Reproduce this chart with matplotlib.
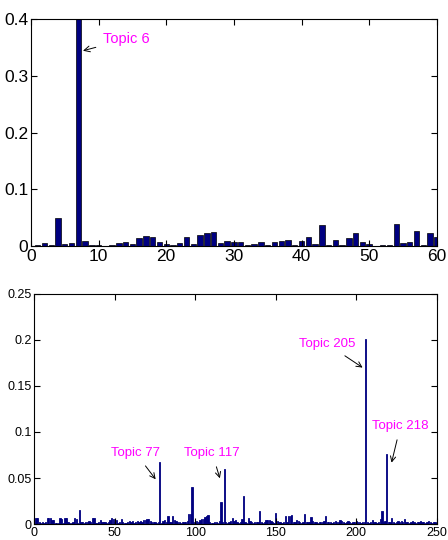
import numpy as np
import matplotlib
matplotlib.use("Agg")
import matplotlib.pyplot as plt

plt.rcParams['font.family'] = ['Liberation Sans', 'DejaVu Sans']

# top panel: first 60 topics
top_vals = [0.003, 0.005, 0.002, 0.050, 0.004, 0.005, 0.420, 0.009, 0.002, 0.002,
            0.001, 0.003, 0.005, 0.007, 0.004, 0.014, 0.018, 0.016, 0.008, 0.004,
            0.003, 0.005, 0.017, 0.004, 0.020, 0.023, 0.025, 0.005, 0.009, 0.008,
            0.008, 0.003, 0.004, 0.008, 0.002, 0.008, 0.009, 0.011, 0.002, 0.009,
            0.016, 0.004, 0.037, 0.002, 0.011, 0.003, 0.014, 0.023, 0.008, 0.004,
            0.001, 0.003, 0.003, 0.039, 0.005, 0.008, 0.027, 0.002, 0.024, 0.017]

# bottom panel: 250 topics
bot_vals = [0.007, 0.006, 0.002, 0.001, 0.002, 0.001, 0.002, 0.007, 0.007, 0.006,
            0.004, 0.004, 0.001, 0.001, 0.001, 0.006, 0.005, 0.001, 0.006, 0.006,
            0.002, 0.001, 0.001, 0.002, 0.006, 0.005, 0.001, 0.015, 0.002, 0.002,
            0.001, 0.002, 0.002, 0.003, 0.002, 0.007, 0.006, 0.001, 0.001, 0.002,
            0.004, 0.002, 0.002, 0.002, 0.001, 0.002, 0.004, 0.006, 0.005, 0.002,
            0.004, 0.001, 0.002, 0.005, 0.002, 0.001, 0.001, 0.002, 0.003, 0.002,
            0.003, 0.001, 0.002, 0.003, 0.002, 0.003, 0.002, 0.004, 0.004, 0.005,
            0.005, 0.003, 0.002, 0.002, 0.002, 0.001, 0.002, 0.067, 0.001, 0.003,
            0.004, 0.002, 0.009, 0.002, 0.002, 0.009, 0.004, 0.003, 0.002, 0.002,
            0.001, 0.002, 0.002, 0.002, 0.003, 0.011, 0.011, 0.040, 0.002, 0.001,
            0.003, 0.002, 0.004, 0.005, 0.005, 0.008, 0.009, 0.010, 0.002, 0.001,
            0.001, 0.002, 0.002, 0.001, 0.003, 0.024, 0.002, 0.060, 0.002, 0.001,
            0.002, 0.003, 0.006, 0.003, 0.004, 0.002, 0.001, 0.002, 0.005, 0.030,
            0.002, 0.001, 0.007, 0.003, 0.002, 0.001, 0.002, 0.002, 0.002, 0.014,
            0.002, 0.001, 0.002, 0.004, 0.004, 0.004, 0.003, 0.002, 0.001, 0.012,
            0.003, 0.002, 0.002, 0.001, 0.002, 0.009, 0.002, 0.009, 0.009, 0.010,
            0.002, 0.002, 0.004, 0.003, 0.002, 0.001, 0.002, 0.011, 0.002, 0.002,
            0.002, 0.008, 0.003, 0.002, 0.002, 0.001, 0.002, 0.002, 0.002, 0.003,
            0.009, 0.002, 0.002, 0.002, 0.001, 0.002, 0.003, 0.002, 0.002, 0.004,
            0.003, 0.002, 0.001, 0.002, 0.003, 0.002, 0.001, 0.002, 0.002, 0.003,
            0.002, 0.002, 0.001, 0.002, 0.002, 0.201, 0.002, 0.001, 0.002, 0.004,
            0.002, 0.002, 0.001, 0.002, 0.005, 0.014, 0.002, 0.003, 0.076, 0.002,
            0.002, 0.007, 0.002, 0.001, 0.002, 0.003, 0.002, 0.003, 0.002, 0.005,
            0.002, 0.002, 0.001, 0.002, 0.003, 0.002, 0.001, 0.002, 0.002, 0.003,
            0.002, 0.002, 0.001, 0.002, 0.003, 0.002, 0.001, 0.002, 0.002, 0.001]

top_ticks_x = [0, 10, 20, 30, 40, 50, 60]
top_ticks_y = [0, 0.1, 0.2, 0.3, 0.4]
top_ticklabels_y = ['0', '0.1', '0.2', '0.3', '0.4']
bot_ticks_x = [0, 50, 100, 150, 200, 250]
bot_ticks_y = [0, 0.05, 0.1, 0.15, 0.2, 0.25]
bot_ticklabels_y = ['0', '0.05', '0.1', '0.15', '0.2', '0.25']

navy = '#000080'
magenta = '#ff00ff'

fig = plt.figure(figsize=(4.48, 5.4), dpi=100)

def style_axes(ax, size):
    ax.tick_params(direction='in', top=True, right=True, length=4, width=0.8,
                   labelsize=size, pad=2)
    for s in ax.spines.values():
        s.set_linewidth(0.8)
        s.set_color('black')

# top
ax1 = fig.add_axes([0.069, 0.544, 0.906, 0.421])
x1 = np.arange(1, len(top_vals) + 1)
ax1.bar(x1, top_vals, width=0.8, color=navy, edgecolor='black', linewidth=0.5)
ax1.set_xlim(0, 60)
ax1.set_ylim(0, 0.4)
ax1.set_xticks(top_ticks_x)
ax1.set_yticks(top_ticks_y)
ax1.set_yticklabels(top_ticklabels_y)
style_axes(ax1, 12.5)
ax1.annotate('Topic 6', xy=(7.7, 0.344), xytext=(10.6, 0.364),
             color=magenta, fontsize=10.5, va='center', ha='left',
             arrowprops=dict(arrowstyle='->', color='black', lw=0.7,
                             shrinkA=3, shrinkB=0))

# bottom
ax2 = fig.add_axes([0.0766, 0.0296, 0.898, 0.426])
x2 = np.arange(1, len(bot_vals) + 1)
ax2.bar(x2, bot_vals, width=0.8, color=navy, edgecolor=navy, linewidth=0.6)
ax2.set_xlim(0, 250)
ax2.set_ylim(0, 0.25)
ax2.set_xticks(bot_ticks_x)
ax2.set_yticks(bot_ticks_y)
ax2.set_yticklabels(bot_ticklabels_y)
style_axes(ax2, 9)

notes = [('Topic 77', (75.4, 0.0486), (47.6, 0.0775)),
         ('Topic 117', (115.3, 0.0497), (93.2, 0.0775)),
         ('Topic 205', (204.0, 0.170), (164.4, 0.1957)),
         ('Topic 218', (222.0, 0.0667), (210.0, 0.1069))]
for txt, xy, xyt in notes:
    ax2.annotate(txt, xy=xy, xytext=xyt, color=magenta, fontsize=9.5,
                 va='center', ha='left',
                 arrowprops=dict(arrowstyle='->', color='black', lw=0.7,
                                 shrinkA=4, shrinkB=0))

fig.savefig('out.png', dpi=100)
